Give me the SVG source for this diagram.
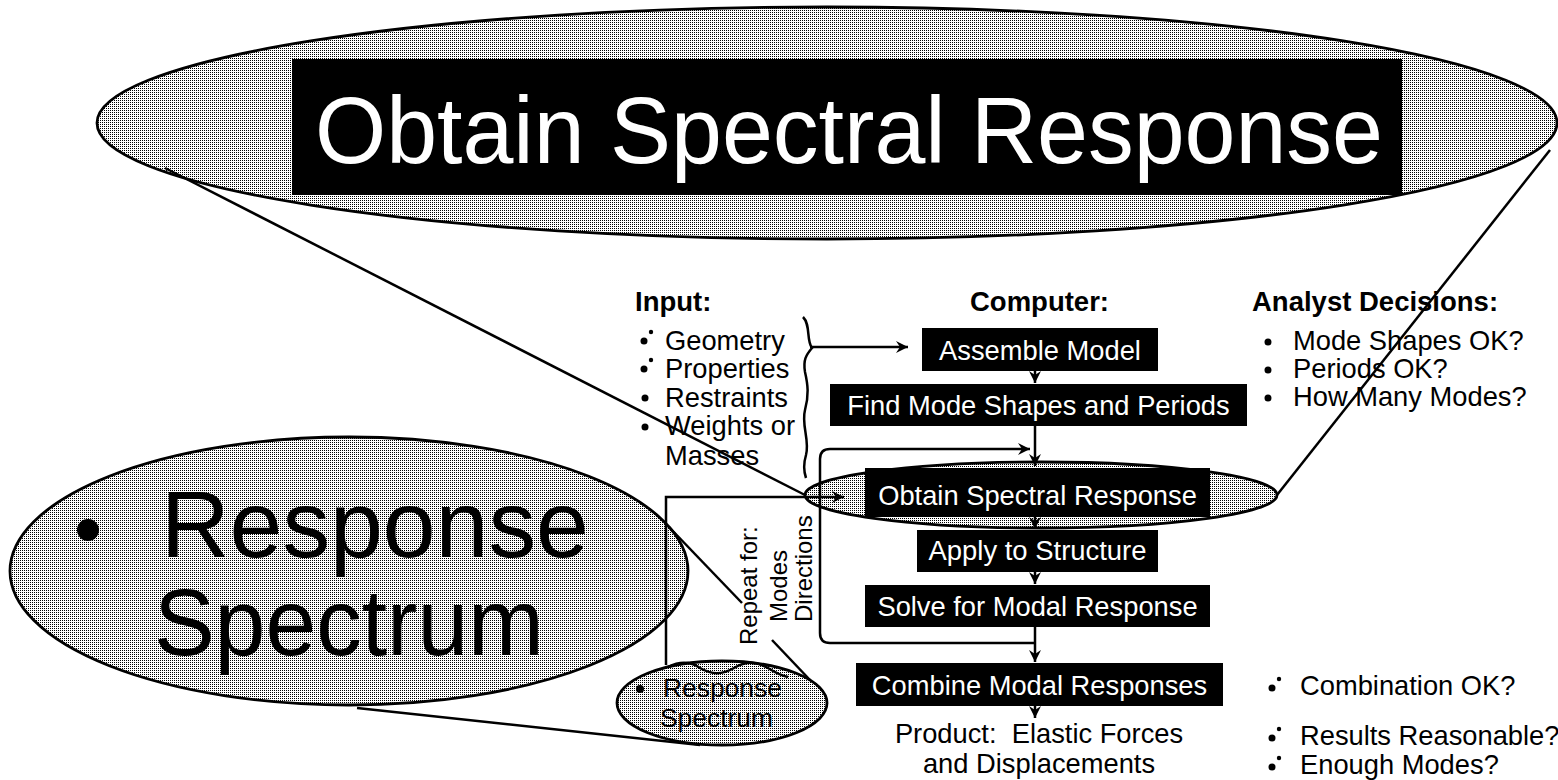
<svg xmlns="http://www.w3.org/2000/svg" width="1558" height="780" viewBox="0 0 1558 780">
  <style>
    .t { font-family: "Liberation Sans", Arial, Helvetica, sans-serif; fill: #000; }
    .w { font-family: "Liberation Sans", Arial, Helvetica, sans-serif; fill: #fff; }
    .b { font-weight: bold; }
    .s { font-size: 27.3px; }
    .box { fill: #000; }
    .halftone { fill: url(#dots); stroke: #000; stroke-width: 2.8; }
    .ln { fill: none; stroke: #000; stroke-width: 2.5; }
    .arr { fill: none; stroke: #000; stroke-width: 2.5; marker-end: url(#head); }
  </style>
  <defs>
    <pattern id="dots" patternUnits="userSpaceOnUse" x="0" y="0" width="2" height="2">
      <rect width="2" height="2" fill="#fff"/>
      <rect width="1" height="1" fill="#000"/>
    </pattern>
    <marker id="head" markerUnits="userSpaceOnUse" markerWidth="14" markerHeight="14" refX="12" refY="6" orient="auto">
      <path d="M0,0 L12,6 L0,12 L4,6 Z" fill="#000"/>
    </marker>
  </defs>

  <rect width="1558" height="780" fill="#fff"/>

  <!-- magnified title bubble -->
  <g id="title-bubble">
    <ellipse class="halftone" cx="827" cy="123" rx="730" ry="116"/>
    <rect class="box" x="292" y="59" width="1110" height="136"/>
    <text class="w" x="315" y="163" font-size="94" textLength="1068" lengthAdjust="spacingAndGlyphs">Obtain Spectral Response</text>
  </g>

  <!-- magnified response spectrum bubble -->
  <g id="spectrum-bubble">
    <ellipse class="halftone" cx="349" cy="571" rx="339" ry="134"/>
    <circle cx="88" cy="530" r="11" fill="#000"/>
    <text class="t" x="161" y="557" font-size="95">Response</text>
    <text class="t" x="154" y="655" font-size="95" textLength="390" lengthAdjust="spacingAndGlyphs">Spectrum</text>
  </g>

  <!-- column headers -->
  <g id="headers">
    <text class="t b" x="635" y="311" font-size="27.5">Input:</text>
    <text class="t b" x="970" y="311" font-size="27.5">Computer:</text>
    <text class="t b" x="1252" y="311" font-size="27.5">Analyst Decisions:</text>
  </g>

  <!-- input list -->
  <g id="input-list">
    <circle cx="644" cy="341" r="3.5"/><circle cx="651" cy="332" r="2.2"/>
    <circle cx="644" cy="369" r="3.5"/><circle cx="651" cy="360" r="2.2"/>
    <circle cx="645" cy="398" r="3.5"/>
    <circle cx="645" cy="427" r="3.5"/>
    <text class="t s" x="665" y="350">Geometry</text>
    <text class="t s" x="665" y="378">Properties</text>
    <text class="t s" x="665" y="407">Restraints</text>
    <text class="t s" x="665" y="435">Weights or</text>
    <text class="t s" x="665" y="465">Masses</text>
    <path class="ln" d="M803,317 C811,325 806,340 812,348 C806,355 803,360 805,372 C808,385 809,395 805,410 C801,425 810,440 806,455 C803,465 804,472 806,478"/>
  </g>

  <!-- analyst decision lists -->
  <g id="decisions-top">
    <circle cx="1268" cy="342" r="3.5"/>
    <circle cx="1268" cy="370" r="3.5"/>
    <circle cx="1268" cy="398" r="3.5"/>
    <text class="t s" x="1293" y="350">Mode Shapes OK?</text>
    <text class="t s" x="1293" y="378">Periods OK?</text>
    <text class="t s" x="1293" y="406">How Many Modes?</text>
  </g>
  <g id="decisions-bottom">
    <circle cx="1272" cy="688" r="3.5"/><circle cx="1279" cy="679" r="2.2"/>
    <circle cx="1272" cy="738" r="3.5"/><circle cx="1279" cy="729" r="2.2"/>
    <circle cx="1272" cy="767" r="3.5"/><circle cx="1279" cy="758" r="2.2"/>
    <text class="t s" x="1300" y="695">Combination OK?</text>
    <text class="t s" x="1300" y="745">Results Reasonable?</text>
    <text class="t s" x="1300" y="774">Enough Modes?</text>
  </g>

  <!-- computer steps -->
  <g id="assemble">
    <rect class="box" x="922" y="328" width="236" height="43"/>
    <text class="w s" x="1040" y="360" text-anchor="middle">Assemble Model</text>
  </g>
  <g id="find-modes">
    <rect class="box" x="830" y="384" width="417" height="42"/>
    <text class="w s" x="1038.5" y="415" text-anchor="middle">Find Mode Shapes and Periods</text>
  </g>
  <g id="obtain">
    <ellipse class="halftone" cx="1041" cy="495" rx="236" ry="33"/>
    <rect class="box" x="865" y="468" width="345" height="49"/>
    <text class="w s" x="1037.5" y="505" text-anchor="middle">Obtain Spectral Response</text>
  </g>
  <g id="apply">
    <rect class="box" x="917" y="530" width="241" height="42"/>
    <text class="w s" x="1037.5" y="560" text-anchor="middle" textLength="218" lengthAdjust="spacingAndGlyphs">Apply to Structure</text>
  </g>
  <g id="solve">
    <rect class="box" x="865" y="585" width="345" height="42"/>
    <text class="w s" x="1037.5" y="616" text-anchor="middle">Solve for Modal Response</text>
  </g>
  <g id="combine">
    <rect class="box" x="856" y="663" width="367" height="43"/>
    <text class="w s" x="1039.5" y="695" text-anchor="middle">Combine Modal Responses</text>
  </g>
  <g id="product">
    <text class="t s" x="1039" y="743" text-anchor="middle" xml:space="preserve">Product:  Elastic Forces</text>
    <text class="t s" x="1039" y="773" text-anchor="middle">and Displacements</text>
  </g>

  <!-- small response spectrum source -->
  <g id="spectrum-source">
    <ellipse class="halftone" cx="722" cy="703" rx="105" ry="42"/>
    <path class="ln" stroke-width="2" d="M668,667 C680,661 690,661 700,668 C712,675 722,675 734,668 C746,661 756,661 768,668 C776,673 782,676 788,677"/>
    <circle cx="640" cy="689" r="4"/>
    <text class="t" x="663" y="697" font-size="26.4">Response</text>
    <text class="t" x="660" y="727" font-size="26.4">Spectrum</text>
  </g>

  <!-- repeat label -->
  <g id="repeat-label">
    <text class="t" font-size="24" transform="translate(757,645) rotate(-90)">Repeat for:</text>
    <text class="t" font-size="24" transform="translate(787,622) rotate(-90)">Modes</text>
    <text class="t" font-size="24" transform="translate(812,622) rotate(-90)">Directions</text>
  </g>

  <!-- connectors -->
  <g id="connectors">
    <path class="arr" d="M810,347 H908"/>
    <path class="arr" d="M1035,371 V383"/>
    <path class="arr" d="M1035,426 V466"/>
    <path class="arr" d="M1035,517 V529"/>
    <path class="arr" d="M1035,572 V584"/>
    <path class="arr" d="M1035,627 V662"/>
    <path class="arr" d="M1035,706 V718"/>
    <path class="arr" d="M1035,643 H830 Q820,643 820,633 V459 Q820,449 830,449 H1030"/>
    <path class="arr" d="M666,665 V497 H844"/>
    <!-- magnification guide lines -->
    <path class="ln" d="M165,168 L805,495"/>
    <path class="ln" d="M1550,150 L1277,495"/>
    <path class="ln" d="M669,527 L742,603"/>
    <path class="ln" d="M772,640 L810,680"/>
    <path class="ln" d="M357,708 L700,745"/>
  </g>
</svg>
